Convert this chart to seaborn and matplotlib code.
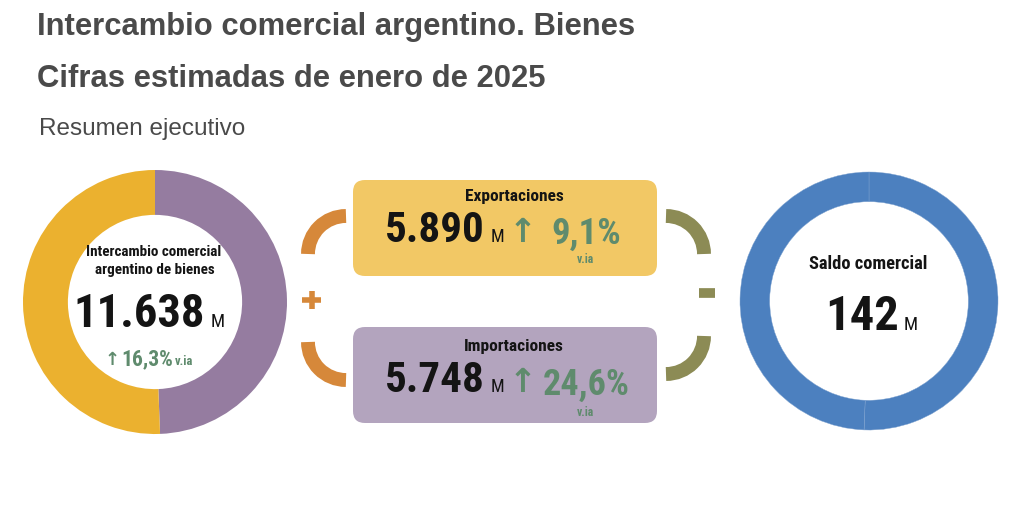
import matplotlib
matplotlib.use("Agg")
import matplotlib.pyplot as plt
import seaborn as sns
from matplotlib import font_manager
from matplotlib.patches import FancyBboxPatch, Arc

# data (millones de USD, enero 2025)
flujos = ["Exportaciones", "Importaciones"]
valores = [5890, 5748]
var_ia = [9.1, 24.6]
intercambio = 11638
var_intercambio = 16.3
saldo = 142

title = "Intercambio comercial argentino. Bienes"
subtitle = "Cifras estimadas de enero de 2025"
section = "Resumen ejecutivo"


def pick_font(names):
    for n in names:
        try:
            font_manager.findfont(n, fallback_to_default=False)
            return n
        except Exception:
            pass
    return "DejaVu Sans"


sns.set_theme(style="white")
HEAD = pick_font(["Liberation Sans", "Arial", "DejaVu Sans"])
COND = pick_font(["Roboto Condensed", "PT Sans Narrow", "Roboto"])
plt.rcParams["font.family"] = [HEAD, "DejaVu Sans"]

YEL = "#EBB12F"
PUR = "#957CA0"
BOX_Y = "#F2C865"
BOX_P = "#B3A4BE"
BLUE = "#4C80BF"
ORANGE = "#D6883A"
OLIVE = "#8C8B55"
GREEN = "#5F8B6D"
INK = "#141414"
GRAY = "#4a4a4a"

W, H = 1024, 507
fig = plt.figure(figsize=(W / 100, H / 100), dpi=100)


def donut_axes(cx, cy, r):
    return fig.add_axes([(cx - r) / W, (H - cy - r) / H, 2 * r / W, 2 * r / H])


# left donut: imports (right half), exports (left half)
axl = donut_axes(155, 302, 132)
axl.pie([valores[1], valores[0]], colors=[PUR, YEL], startangle=90, counterclock=False,
        radius=1, wedgeprops=dict(width=0.34, edgecolor="none"))
axl.set_xlim(-1, 1)
axl.set_ylim(-1, 1)

# right donut: saldo comercial
axr = donut_axes(869, 301, 129)
axr.pie(valores, colors=[BLUE, BLUE], startangle=90, counterclock=False,
        radius=1, wedgeprops=dict(width=0.23, edgecolor="#7fa3d0", linewidth=0.3))
axr.set_xlim(-1, 1)
axr.set_ylim(-1, 1)

# overlay in pixel coordinates
ax = fig.add_axes([0, 0, 1, 1], zorder=5)
ax.set_xlim(0, W)
ax.set_ylim(H, 0)
ax.set_facecolor("none")
ax.axis("off")

ax.text(37, 35, title, fontsize=22.3, fontweight="bold", color=GRAY, va="baseline")
ax.text(37, 87, subtitle, fontsize=22.3, fontweight="bold", color=GRAY, va="baseline")
ax.text(39, 135, section, fontsize=17.5, color=GRAY, va="baseline")

# boxes
for y0, col in [(180, BOX_Y), (327, BOX_P)]:
    ax.add_patch(FancyBboxPatch((353 + 12, y0 + 12), 304 - 24, 96 - 24,
                                boxstyle="round,pad=12", fc=col, ec="none"))

# brackets
lw = 10
ax.add_patch(Arc((346, 254), 76, 76, theta1=180, theta2=270, color=ORANGE, lw=lw))
ax.add_patch(Arc((346, 342), 76, 76, theta1=90, theta2=180, color=ORANGE, lw=lw))
ax.add_patch(Arc((666, 254), 76, 76, theta1=270, theta2=360, color=OLIVE, lw=lw))
ax.add_patch(Arc((666, 336), 76, 76, theta1=0, theta2=90, color=OLIVE, lw=lw))
ax.plot([302, 321], [299.5, 299.5], color=ORANGE, lw=4, solid_capstyle="butt")
ax.plot([311.5, 311.5], [290.5, 308.5], color=ORANGE, lw=4, solid_capstyle="butt")
ax.plot([699, 715], [293, 293], color=OLIVE, lw=7, solid_capstyle="butt")

fmt = lambda v: f"{v:,}".replace(",", ".")
pct = lambda v: f"{v:.1f}%".replace(".", ",")

# left donut text
ax.text(154, 256, "Intercambio comercial", family=COND, fontsize=10.9, fontweight="bold",
        color=INK, ha="center", va="baseline")
ax.text(155, 274, "argentino de bienes", family=COND, fontsize=10.9, fontweight="bold",
        color=INK, ha="center", va="baseline")
ax.text(205, 327, fmt(intercambio), family=COND, fontsize=33.5, fontweight="bold",
        color=INK, ha="right", va="baseline")
ax.text(211, 327, "M", family=COND, fontsize=13.5, color=INK, ha="left", va="baseline")
ax.text(120, 365, "\u2191", family="DejaVu Sans", fontsize=13, fontweight="bold", color=GREEN,
        ha="right", va="baseline")
ax.text(121, 365, pct(var_intercambio), family=COND, fontsize=15.5, fontweight="bold",
        color=GREEN, ha="left", va="baseline")
ax.text(175, 365, "v.ia", family=COND, fontsize=9, fontweight="bold", color=GREEN,
        ha="left", va="baseline")

# boxes text
rows = [(197, 242, 244, 263), (346, 392, 395, 416)]
for name, v, p, (yt, yb, yp, yv) in zip(flujos, valores, var_ia, rows):
    ax.text(514, yt, name, family=COND, fontsize=12.5, fontweight="bold", color=INK,
            ha="center", va="center")
    ax.text(485, yb, fmt(v), family=COND, fontsize=31, fontweight="bold", color=INK,
            ha="right", va="baseline")
    ax.text(491, yb, "M", family=COND, fontsize=13, color=INK, ha="left", va="baseline")
    ax.text(523, yb, "\u2191", family="DejaVu Sans", fontsize=24, fontweight="bold",
            color=GREEN, ha="center", va="baseline")
    ax.text(586, yp, pct(p), family=COND, fontsize=26.5 if p < 10 else 26, fontweight="bold",
            color=GREEN, ha="center", va="baseline")
    ax.text(585, yv, "v.ia", family=COND, fontsize=8.5, fontweight="bold", color=GREEN,
            ha="center", va="baseline")

# right donut text
ax.text(868, 269, "Saldo comercial", family=COND, fontsize=13.3, fontweight="bold",
        color=INK, ha="center", va="baseline")
ax.text(899, 330, fmt(saldo), family=COND, fontsize=35, fontweight="bold", color=INK,
        ha="right", va="baseline")
ax.text(904, 330, "M", family=COND, fontsize=13.5, color=INK, ha="left", va="baseline")

fig.savefig("out.png", dpi=100, facecolor="white")
